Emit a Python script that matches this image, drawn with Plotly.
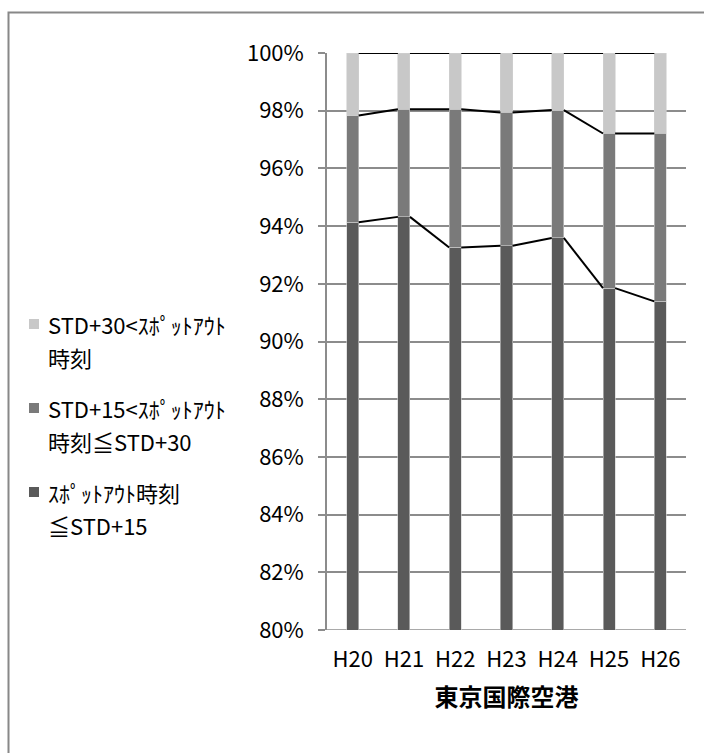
import plotly.graph_objects as go

# Share of departures by spot-out delay band, Tokyo International Airport (percent)
years = ["H20", "H21", "H22", "H23", "H24", "H25", "H26"]
within_15 = [94.13, 94.32, 93.26, 93.32, 93.59, 91.85, 91.39]
between_15_30 = [3.70, 3.73, 4.79, 4.62, 4.43, 5.36, 5.82]
over_30 = [2.17, 1.95, 1.95, 2.06, 1.98, 2.79, 2.79]

# legend labels, each split over two lines
series_labels = [
    ["ｽﾎﾟｯﾄｱｳﾄ時刻", "≦STD+15"],
    ["STD+15&lt;ｽﾎﾟｯﾄｱｳﾄ", "時刻≦STD+30"],
    ["STD+30&lt;ｽﾎﾟｯﾄｱｳﾄ", "時刻"],
]
series_values = [within_15, between_15_30, over_30]
bar_colors = ["#5a5a5a", "#7a7a7a", "#c8c8c8"]

FONT = "Noto Sans CJK JP, sans-serif"
BAR_W = 0.235

W, H = 704, 753
L, R, T, B = 327, 18, 53, 123
plot_w = W - L - R
plot_h = H - T - B


def px_to_paper_x(px):
    return (px - L) / plot_w


def px_to_paper_y(py):
    return (H - B - py) / plot_h


xpos = list(range(len(years)))
fig = go.Figure()

for label, vals, col in zip(series_labels, series_values, bar_colors):
    fig.add_trace(go.Bar(
        x=xpos, y=vals, name=" ".join(label).replace("&lt;", "<"), width=BAR_W,
        marker=dict(color=col, line=dict(color="#d0d0d0", width=0.6)),
        showlegend=False,
    ))

# series lines joining the top of each stack segment across the gaps
cum = [0.0] * len(years)
for vals in series_values:
    cum = [c + v for c, v in zip(cum, vals)]
    lx, ly = [], []
    for i in range(len(years) - 1):
        lx += [xpos[i] + BAR_W / 2, xpos[i + 1] - BAR_W / 2, None]
        ly += [cum[i], cum[i + 1], None]
    fig.add_trace(go.Scatter(
        x=lx, y=ly, mode="lines", showlegend=False, hoverinfo="skip",
        line=dict(color="#000000", width=2),
    ))

# outer chart frame
shapes = [dict(
    type="rect", xref="paper", yref="paper",
    x0=px_to_paper_x(8.5), x1=px_to_paper_x(W + 20),
    y0=px_to_paper_y(H + 20), y1=px_to_paper_y(12.5),
    line=dict(color="#888888", width=2), layer="below",
)]
# bottom axis line at 80%
shapes.append(dict(
    type="line", xref="paper", yref="y", x0=0, x1=1, y0=80, y1=80,
    line=dict(color="#8c8c8c", width=1.5), layer="below",
))

# legend on the left: top segment first, two text lines per entry
annotations = []
entry_top = 324
entry_step = 84
line_step = 32.5
for k, (label, col) in enumerate(zip(series_labels[::-1], bar_colors[::-1])):
    yc = entry_top + k * entry_step
    shapes.append(dict(
        type="rect", xref="paper", yref="paper",
        x0=px_to_paper_x(29), x1=px_to_paper_x(39),
        y0=px_to_paper_y(yc + 5), y1=px_to_paper_y(yc - 5),
        fillcolor=col, line=dict(width=0),
    ))
    for j, line_text in enumerate(label):
        annotations.append(dict(
            text=line_text, xref="paper", yref="paper",
            x=px_to_paper_x(46), y=px_to_paper_y(yc + j * line_step),
            xanchor="left", yanchor="middle", showarrow=False,
            font=dict(family=FONT, size=22, color="#000000"),
        ))

fig.update_layout(
    width=W, height=H,
    margin=dict(l=L, r=R, t=T, b=B, pad=0, autoexpand=False),
    barmode="stack",
    plot_bgcolor="white", paper_bgcolor="white",
    font=dict(family=FONT, size=22, color="#000000"),
    showlegend=False,
    shapes=shapes,
    annotations=annotations,
    xaxis=dict(
        range=[-0.5, len(years) - 0.5],
        tickmode="array", tickvals=xpos, ticktext=years,
        showgrid=False, zeroline=False, automargin=False,
        showline=False, ticks="",
        ticklabelstandoff=14,
        tickfont=dict(family=FONT, size=22),
        title=dict(text="<b>東京国際空港</b>", font=dict(family=FONT, size=24), standoff=17),
    ),
    yaxis=dict(
        range=[80, 100], dtick=2, ticksuffix="%",
        showgrid=True, gridcolor="#8c8c8c", gridwidth=1.5,
        zeroline=False, automargin=False,
        showline=True, linecolor="#8c8c8c", linewidth=1.5,
        ticks="outside", ticklen=7, tickcolor="#8c8c8c", tickwidth=1.5,
        ticklabelstandoff=10,
        tickfont=dict(family=FONT, size=22),
    ),
)

fig.write_html("out.html")
